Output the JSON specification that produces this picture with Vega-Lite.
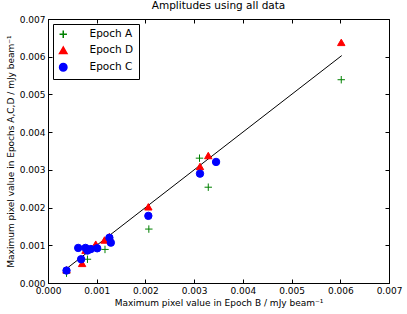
{
  "$schema": "https://vega.github.io/schema/vega-lite/v6.json",
  "width": 341,
  "height": 264,
  "autosize": {"type": "none"},
  "padding": {"left": 48, "top": 19, "right": 18, "bottom": 31},
  "background": "white",
  "config": {
    "font": "DejaVu Sans",
    "view": {"stroke": "black", "strokeWidth": 1},
    "axis": {"grid": false, "domainColor": "black", "tickColor": "black", "labelColor": "black", "titleColor": "black", "labelFont": "DejaVu Sans", "titleFont": "DejaVu Sans", "labelFontSize": 9, "titleFontSize": 9, "titleFontWeight": "normal", "tickSize": -4, "labelPadding": 7, "format": ".3f", "labelFlush": false, "labelOverlap": false, "labelBound": false}
  },
  "title": {"text": "Amplitudes using all data", "font": "DejaVu Sans", "fontSize": 10.5, "fontWeight": "normal", "color": "black", "offset": 4},
  "datasets": {
    "pts": [
      {"b": 0.00038, "v": 0.00026, "epoch": "Epoch A"},
      {"b": 0.00081, "v": 0.00063, "epoch": "Epoch A"},
      {"b": 0.00117, "v": 0.00089, "epoch": "Epoch A"},
      {"b": 0.00207, "v": 0.00143, "epoch": "Epoch A"},
      {"b": 0.00311, "v": 0.00331, "epoch": "Epoch A"},
      {"b": 0.00329, "v": 0.00254, "epoch": "Epoch A"},
      {"b": 0.00602, "v": 0.00539, "epoch": "Epoch A"},
      {"b": 0.00038, "v": 0.00035, "epoch": "Epoch D"},
      {"b": 0.00070, "v": 0.00052, "epoch": "Epoch D"},
      {"b": 0.00077, "v": 0.00087, "epoch": "Epoch D"},
      {"b": 0.00098, "v": 0.00103, "epoch": "Epoch D"},
      {"b": 0.00116, "v": 0.00114, "epoch": "Epoch D"},
      {"b": 0.00126, "v": 0.00123, "epoch": "Epoch D"},
      {"b": 0.00206, "v": 0.00202, "epoch": "Epoch D"},
      {"b": 0.00312, "v": 0.00309, "epoch": "Epoch D"},
      {"b": 0.00329, "v": 0.00338, "epoch": "Epoch D"},
      {"b": 0.00602, "v": 0.00638, "epoch": "Epoch D"},
      {"b": 0.00038, "v": 0.00033, "epoch": "Epoch C"},
      {"b": 0.00062, "v": 0.00093, "epoch": "Epoch C"},
      {"b": 0.00077, "v": 0.00093, "epoch": "Epoch C"},
      {"b": 0.00068, "v": 0.00063, "epoch": "Epoch C"},
      {"b": 0.00081, "v": 0.00086, "epoch": "Epoch C"},
      {"b": 0.00088, "v": 0.00090, "epoch": "Epoch C"},
      {"b": 0.00101, "v": 0.00092, "epoch": "Epoch C"},
      {"b": 0.00126, "v": 0.00120, "epoch": "Epoch C"},
      {"b": 0.00129, "v": 0.00107, "epoch": "Epoch C"},
      {"b": 0.00206, "v": 0.00178, "epoch": "Epoch C"},
      {"b": 0.00312, "v": 0.00290, "epoch": "Epoch C"},
      {"b": 0.00345, "v": 0.00321, "epoch": "Epoch C"}
    ],
    "fit": [
      {"b": 0.00035, "v": 0.00035},
      {"b": 0.00603, "v": 0.00603}
    ]
  },
  "layer": [
    {
      "data": {"name": "fit"},
      "mark": {"type": "line", "color": "black", "strokeWidth": 1},
      "encoding": {
        "x": {"field": "b", "type": "quantitative", "scale": {"domain": [0, 0.007], "nice": false}, "axis": {"title": "Maximum pixel value in Epoch B / mJy beam⁻¹", "titlePadding": 3, "values": [0, 0.001, 0.002, 0.003, 0.004, 0.005, 0.006, 0.007]}},
        "y": {"field": "v", "type": "quantitative", "scale": {"domain": [0, 0.007], "nice": false}, "axis": {"title": "Maximum pixel value in Epochs A,C,D / mJy beam⁻¹", "titlePadding": 4, "values": [0, 0.001, 0.002, 0.003, 0.004, 0.005, 0.006, 0.007]}}
      }
    },
    {
      "data": {"name": "pts"},
      "mark": {"type": "point", "filled": true, "size": 55, "strokeWidth": 1, "opacity": 1},
      "encoding": {
        "x": {"field": "b", "type": "quantitative", "scale": {"domain": [0, 0.007], "nice": false}, "axis": {"orient": "top", "labels": false, "title": null, "domain": false, "values": [0, 0.001, 0.002, 0.003, 0.004, 0.005, 0.006, 0.007]}},
        "y": {"field": "v", "type": "quantitative", "scale": {"domain": [0, 0.007], "nice": false}, "axis": {"orient": "right", "labels": false, "title": null, "domain": false, "values": [0, 0.001, 0.002, 0.003, 0.004, 0.005, 0.006, 0.007]}},
        "color": {"field": "epoch", "type": "nominal", "scale": {"domain": ["Epoch A", "Epoch D", "Epoch C"], "range": ["#008000", "#ff0000", "#0000ff"]}, "legend": {"title": null, "orient": "top-left", "offset": 5, "strokeColor": "black", "fillColor": "white", "padding": 5, "labelFontSize": 10.5, "labelFont": "DejaVu Sans", "labelColor": "black", "rowPadding": 3, "symbolSize": 55, "labelOffset": 21}},
        "stroke": {"field": "epoch", "type": "nominal", "scale": {"domain": ["Epoch A", "Epoch D", "Epoch C"], "range": ["#008000", "#ff0000", "#0000ff"]}, "legend": null},
        "shape": {"field": "epoch", "type": "nominal", "scale": {"domain": ["Epoch A", "Epoch D", "Epoch C"], "range": ["M-1,0L1,0M0,-1L0,1", "triangle-up", "circle"]}, "legend": null}
      }
    }
  ],
  "resolve": {"axis": {"x": "independent", "y": "independent"}}
}
